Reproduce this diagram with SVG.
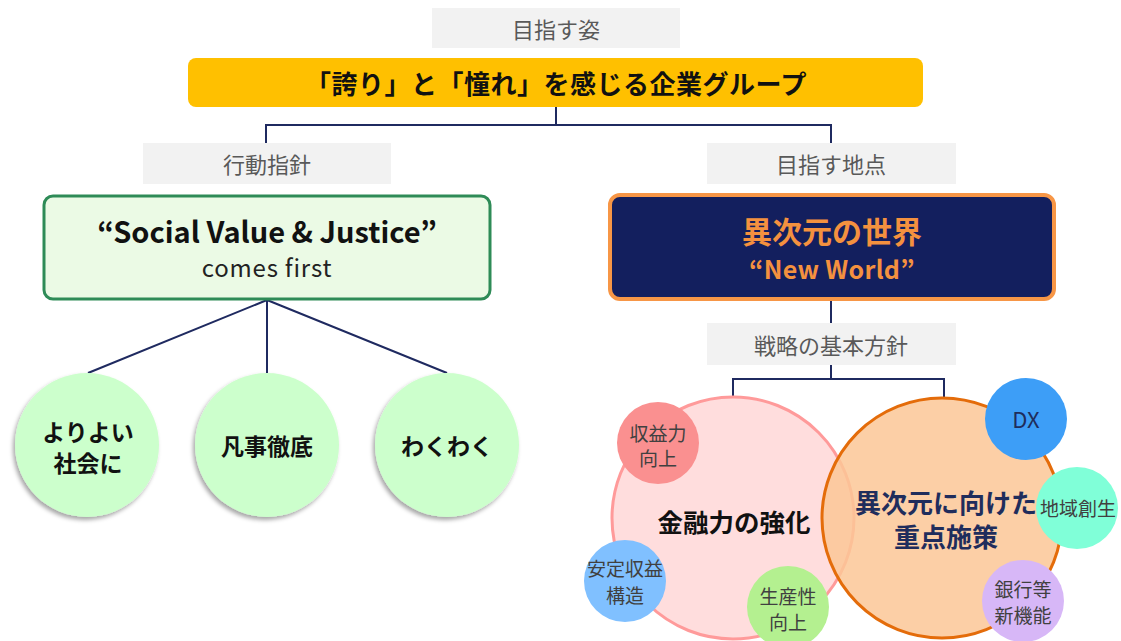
<svg xmlns="http://www.w3.org/2000/svg" width="1121" height="641" viewBox="0 0 1121 641">
<defs>
<style>
text{font-family:"Noto Sans CJK JP","Noto Sans",sans-serif;text-anchor:middle;dominant-baseline:central}
.lbl rect{fill:#f2f2f2}
.lbl text{fill:#595959;font-size:22px}
.conn{fill:none;stroke:#1f2a60;stroke-width:2}
.gc{fill:#ccffcc;filter:url(#sh)}
.gt{font-size:23px;font-weight:bold;fill:#111}
.st{font-size:19px;fill:#404040}
</style>
<filter id="sh" x="-20%" y="-20%" width="140%" height="140%">
<feDropShadow dx="-2" dy="3" stdDeviation="2" flood-color="#000" flood-opacity="0.35"/>
</filter>
</defs>
<rect width="1121" height="641" fill="#fff"/>

<g id="connectors" class="conn">
<path d="M556 107V125M266 143V125H831V143"/>
<path d="M267 300L88 373M267 300V373M267 300L447 373"/>
<path d="M831 301V323M831 365V379M733 397V379H944V397"/>
</g>

<g id="label-goal" class="lbl"><rect x="432" y="8" width="248" height="40"/><text x="556" y="28">目指す姿</text></g>
<g id="vision"><rect x="188" y="58" width="735" height="49" rx="8" fill="#ffc000"/><text x="556" y="82" font-size="26" font-weight="bold" letter-spacing="0.5" fill="#111">「誇り」と「憧れ」を感じる企業グループ</text></g>

<g id="label-action" class="lbl"><rect x="143" y="143" width="248" height="41"/><text x="267" y="163">行動指針</text></g>
<g id="label-target" class="lbl"><rect x="707" y="143" width="249" height="41"/><text x="831" y="163">目指す地点</text></g>

<g id="social-value"><rect x="44" y="196" width="446" height="103" rx="9" fill="#ebfae5" stroke="#2e8b57" stroke-width="3"/>
<text x="267" y="230" font-size="29" font-weight="bold" fill="#111">“Social Value &amp; Justice”</text>
<text x="267" y="266" font-size="24" letter-spacing="0.8" fill="#222">comes first</text></g>

<g id="new-world"><rect x="610" y="195" width="444" height="104" rx="10" fill="#131f5e" stroke="#f79646" stroke-width="4"/>
<text x="832" y="230" font-size="30" font-weight="bold" fill="#f4913f">異次元の世界</text>
<text x="832" y="268" font-size="25" font-weight="bold" letter-spacing="0.3" fill="#f4913f">“New World”</text></g>

<g id="c-yoriyoi"><circle class="gc" cx="87" cy="445" r="72"/><text class="gt" x="88" y="431">よりよい</text><text class="gt" x="88" y="462">社会に</text></g>
<g id="c-bonji"><circle class="gc" cx="267" cy="445" r="72"/><text class="gt" x="267" y="445">凡事徹底</text></g>
<g id="c-wakuwaku"><circle class="gc" cx="447" cy="445" r="72"/><text class="gt" x="447" y="445">わくわく</text></g>

<g id="label-strategy" class="lbl"><rect x="707" y="323" width="249" height="42"/><text x="831" y="344">戦略の基本方針</text></g>

<g id="kinyu"><circle cx="733" cy="518" r="121" fill="#ffdddd" stroke="#ff9a9a" stroke-width="3"/>
<text x="734" y="520" font-size="25.5" font-weight="bold" fill="#111">金融力の強化</text></g>
<g id="jigen"><circle cx="942" cy="518" r="120" fill="#fcc796" fill-opacity="0.85" stroke="#e46c0a" stroke-width="3"/>
<text x="946" y="501" font-size="26" font-weight="bold" fill="#1f2d5c">異次元に向けた</text>
<text x="946" y="535" font-size="26" font-weight="bold" fill="#1f2d5c">重点施策</text></g>

<g id="c-shueki"><circle cx="658" cy="443" r="41" fill="#fa9090"/><text class="st" x="658" y="432">収益力</text><text class="st" x="658" y="457">向上</text></g>
<g id="c-antei"><circle cx="625" cy="581" r="41" fill="#80c0ff"/><text class="st" x="625" y="567">安定収益</text><text class="st" x="625" y="594">構造</text></g>
<g id="c-seisan"><circle cx="788" cy="607" r="41" fill="#b4f090"/><text class="st" x="788" y="595">生産性</text><text class="st" x="788" y="621">向上</text></g>
<g id="c-dx"><circle cx="1026" cy="419" r="41" fill="#3d9ef7"/><text x="1026" y="418" font-size="22" fill="#1f2d5c">DX</text></g>
<g id="c-chiiki"><circle cx="1077" cy="508" r="41" fill="#80ffd8"/><text class="st" x="1078" y="507">地域創生</text></g>
<g id="c-ginko"><circle cx="1023" cy="601" r="41" fill="#d7b7f7"/><text class="st" x="1023" y="588">銀行等</text><text class="st" x="1023" y="614">新機能</text></g>
</svg>
